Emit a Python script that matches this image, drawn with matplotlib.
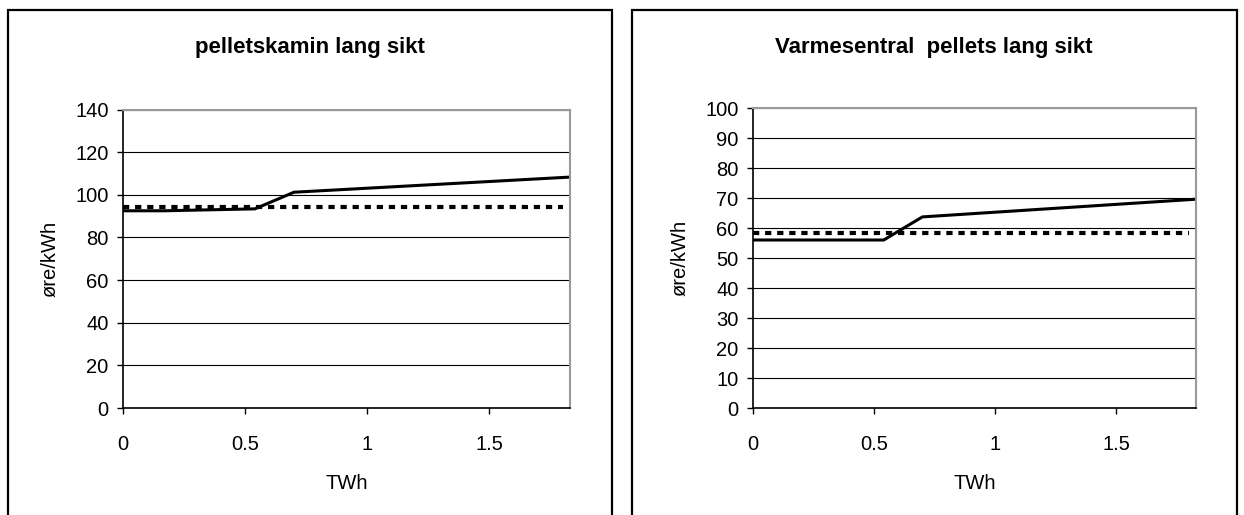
import matplotlib.pyplot as plt
from matplotlib.patches import Rectangle

plt.rcParams["font.family"] = ["Liberation Sans", "DejaVu Sans"]

# supply curves (TWh vs øre/kWh)
kamin_twh = [0, 0.17, 0.54, 0.70, 1.83]
kamin_cost = [92.5, 92.5, 93.4, 101.2, 108.3]
kamin_ref_twh = [0, 1.8]
kamin_ref_cost = [94.5, 94.5]

sentral_twh = [0, 0.16, 0.54, 0.70, 1.83]
sentral_cost = [56.0, 56.0, 56.0, 63.7, 69.6]
sentral_ref_twh = [0, 1.8]
sentral_ref_cost = [58.2, 58.2]

x_ticks = [0, 0.5, 1, 1.5]
x_tick_labels = ["0", "0.5", "1", "1.5"]

W, H = 1244, 515
fig = plt.figure(figsize=(W / 100, H / 100), dpi=100)

FS = 14.5

# chart frames
for x0, x1 in [(8, 612), (632, 1237)]:
    fig.patches.append(Rectangle((x0 / W, -0.05), (x1 - x0) / W, (H - 10) / H + 0.05,
                                 transform=fig.transFigure, fill=False,
                                 edgecolor="black", linewidth=1.6))


def draw_panel(rect, frame_center, title, xs, ys, ref_x, ref_y, ymax, ystep):
    ax = fig.add_axes(rect)
    ax.set_xlim(0, 1.83)
    ax.set_ylim(0, ymax)
    ax.set_yticks(range(0, ymax + 1, ystep))
    ax.set_xticks(x_ticks)
    ax.set_xticklabels(x_tick_labels)
    ax.yaxis.grid(True, color="black", linewidth=0.8)
    ax.set_axisbelow(True)
    for side in ["top", "right"]:
        ax.spines[side].set_color("#999999")
        ax.spines[side].set_linewidth(1.5)
    for side in ["left", "bottom"]:
        ax.spines[side].set_color("black")
        ax.spines[side].set_linewidth(1.2)
    ax.tick_params(axis="y", direction="out", length=4.3, width=1, pad=6, labelsize=FS)
    ax.tick_params(axis="x", direction="out", length=4.3, width=1, pad=15.5, labelsize=FS)

    ax.plot(ref_x, ref_y, color="black", linewidth=3,
            linestyle=(0, (1.5, 1.4)), dash_capstyle="butt")
    ax.plot(xs, ys, color="black", linewidth=2.2, solid_joinstyle="miter")

    ax.set_xlabel("TWh", fontsize=FS, labelpad=14)
    ax.set_ylabel("øre/kWh", fontsize=FS, labelpad=11.5)
    fig.text(frame_center / W, 1 - 53 / H, title, fontsize=16, fontweight="bold",
             ha="center", va="baseline")
    return ax


draw_panel([123 / W, 107 / H, (570 - 123) / W, (408 - 109.5) / H], 310,
           "pelletskamin lang sikt", kamin_twh, kamin_cost,
           kamin_ref_twh, kamin_ref_cost, 140, 20)
draw_panel([753 / W, 107 / H, (1196 - 753) / W, (408 - 108) / H], 934,
           "Varmesentral  pellets lang sikt", sentral_twh, sentral_cost,
           sentral_ref_twh, sentral_ref_cost, 100, 10)

fig.savefig("out.png", dpi=100)
